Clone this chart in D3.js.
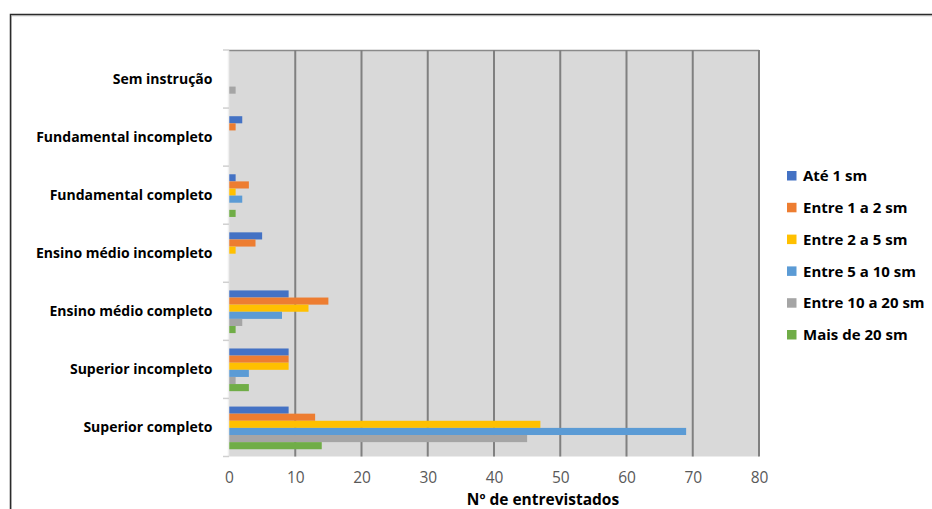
<!DOCTYPE html>
<html>
<head>
<meta charset="utf-8">
<script src="https://cdn.jsdelivr.net/npm/d3@7"></script>
<style>
  html, body { margin: 0; padding: 0; background: #ffffff; }
  svg { display: block; }
</style>
</head>
<body>
<svg id="chart" width="932" height="509"></svg>
<script>
// Education level, top to bottom
const categories = [
  "Sem instrução",
  "Fundamental incompleto",
  "Fundamental completo",
  "Ensino médio incompleto",
  "Ensino médio completo",
  "Superior incompleto",
  "Superior completo"
];

// Income bands (salários mínimos)
const seriesNames = [
  "Até 1 sm",
  "Entre 1 a 2 sm",
  "Entre 2 a 5 sm",
  "Entre 5 a 10 sm",
  "Entre 10 a 20 sm",
  "Mais de 20 sm"
];

// Respondents per category, one array per income band
const ate1      = [0, 2, 1, 5, 9, 9, 9];
const entre1a2  = [0, 1, 3, 4, 15, 9, 13];
const entre2a5  = [0, 0, 1, 1, 12, 9, 47];
const entre5a10 = [0, 0, 2, 0, 8, 3, 69];
const entre10a20 = [1, 0, 0, 0, 2, 1, 45];
const mais20    = [0, 0, 1, 0, 1, 3, 14];

const seriesValues = [ate1, entre1a2, entre2a5, entre5a10, entre10a20, mais20];
const seriesColors = ["#4472C4", "#ED7D31", "#FFC000", "#5B9BD5", "#A5A5A5", "#70AD47"];

const xTicks = [0, 10, 20, 30, 40, 50, 60, 70, 80];
const xTitle = "Nº de entrevistados";

const svg = d3.select("#chart");
const font = "'Open Sans', sans-serif";

// Outer chart frame (top and left edges visible)
svg.append("path")
  .attr("d", "M10.5,509 V14.5 H932")
  .attr("fill", "none")
  .attr("stroke", "#2b2b2b")
  .attr("stroke-width", 1.5);
svg.append("path")
  .attr("d", "M11.5,509 V15.75 H932")
  .attr("fill", "none")
  .attr("stroke", "#a0a0a0")
  .attr("stroke-width", 0.8);

const plot = { left: 229, right: 759, top: 50, bottom: 456.5 };

const x = d3.scaleLinear().domain([0, 80]).range([plot.left, plot.right]);
const y = d3.scaleBand().domain(categories).range([plot.top, plot.bottom]).padding(0);
const yInner = d3.scaleBand()
  .domain(d3.range(seriesNames.length))
  .range([y.bandwidth() * 0.14, y.bandwidth() * 0.875])
  .padding(0);

// Plot background
svg.append("rect")
  .attr("x", plot.left).attr("y", plot.top)
  .attr("width", plot.right - plot.left).attr("height", plot.bottom - plot.top)
  .attr("fill", "#D9D9D9");

// Top border of plot area
svg.append("line")
  .attr("x1", plot.left).attr("x2", plot.right)
  .attr("y1", plot.top + 0.5).attr("y2", plot.top + 0.5)
  .attr("stroke", "#8a8a8a").attr("stroke-width", 1.5);

// Vertical gridlines
svg.append("g").selectAll("line")
  .data(xTicks.filter(d => d > 0))
  .join("line")
  .attr("x1", d => x(d)).attr("x2", d => x(d))
  .attr("y1", plot.top).attr("y2", plot.bottom)
  .attr("stroke", "#808080").attr("stroke-width", 2);

// Bars
const groups = svg.append("g").selectAll("g")
  .data(categories)
  .join("g")
  .attr("transform", d => `translate(0,${y(d)})`);

groups.selectAll("rect")
  .data((c, ci) => seriesValues.map((vals, si) => ({ si, v: vals[ci] })))
  .join("rect")
  .attr("x", x(0))
  .attr("y", d => yInner(d.si))
  .attr("width", d => x(d.v) - x(0))
  .attr("height", yInner.bandwidth())
  .attr("fill", d => seriesColors[d.si]);

// Category axis (left)
const yAxis = svg.append("g")
  .attr("transform", `translate(${plot.left},0)`);
yAxis.append("line")
  .attr("x1", -0.5).attr("x2", -0.5)
  .attr("y1", plot.top).attr("y2", plot.bottom)
  .attr("stroke", "#f0f0f0").attr("stroke-width", 1.5);
yAxis.selectAll("line.tick")
  .data(categories.map(c => y(c)).concat([plot.bottom]))
  .join("line")
  .attr("class", "tick")
  .attr("x1", -6).attr("x2", 0)
  .attr("y1", d => d).attr("y2", d => d)
  .attr("stroke", "#d0d0d0").attr("stroke-width", 1.5);
yAxis.selectAll("text")
  .data(categories)
  .join("text")
  .attr("x", -16.5)
  .attr("y", d => y(d) + y.bandwidth() / 2)
  .attr("dy", "0.35em")
  .attr("text-anchor", "end")
  .attr("font-family", font)
  .attr("font-weight", "bold")
  .attr("font-size", 14)
  .attr("fill", "#000")
  .text(d => d);

// Value axis (bottom)
const xAxis = d3.axisBottom(x).tickValues(xTicks).tickSize(0).tickPadding(15);
const xg = svg.append("g")
  .attr("transform", `translate(0,${plot.bottom})`)
  .call(xAxis);
xg.select(".domain").remove();
xg.selectAll("text")
  .attr("font-family", font)
  .attr("font-size", 15.5)
  .attr("fill", "#595959");

svg.append("text")
  .attr("x", 543)
  .attr("y", 505)
  .attr("text-anchor", "middle")
  .attr("font-family", font)
  .attr("font-weight", "bold")
  .attr("font-size", 15.5)
  .attr("fill", "#000")
  .text(xTitle);

// Legend
const legend = svg.append("g").attr("transform", "translate(787,176)");
const li = legend.selectAll("g")
  .data(seriesNames)
  .join("g")
  .attr("transform", (d, i) => `translate(0,${i * 31.8})`);
li.append("rect")
  .attr("x", 0).attr("y", -5)
  .attr("width", 9.5).attr("height", 9.5)
  .attr("fill", (d, i) => seriesColors[i]);
li.append("text")
  .attr("x", 16)
  .attr("y", 0)
  .attr("dy", "0.35em")
  .attr("font-family", font)
  .attr("font-weight", "bold")
  .attr("font-size", 15)
  .attr("fill", "#000")
  .text(d => d);
</script>
</body>
</html>
